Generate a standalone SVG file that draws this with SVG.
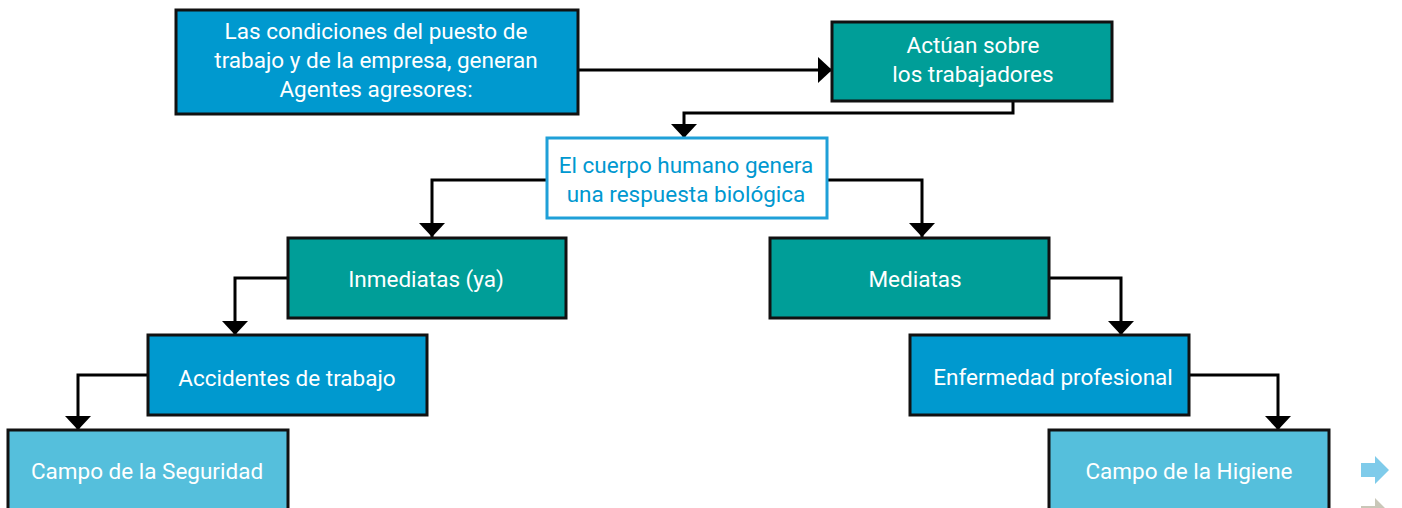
<svg xmlns="http://www.w3.org/2000/svg" width="1402" height="508" viewBox="0 0 1402 508">
<style>
.box{stroke:#111;stroke-width:3}
.blue{fill:#0099CF}
.teal{fill:#009E98}
.light{fill:#55BFDC}
.open{fill:#fff;stroke:#1FA0D8;stroke-width:3}
text{font-family:Roboto,"Liberation Sans",sans-serif;font-size:22.5px;fill:#fff;text-anchor:middle}
.dark{fill:#0098D0}
.con{fill:none;stroke:#000;stroke-width:3}
</style>
<defs>
<marker id="ah" viewBox="0 0 14 26" refX="14" refY="13" markerWidth="14" markerHeight="26" markerUnits="userSpaceOnUse" orient="auto">
<path d="M0,0 L14,13 L0,26 Z" fill="#000"/>
</marker>
</defs>
<g id="connectors">
<path class="con" d="M578,70 H832" marker-end="url(#ah)"/>
<path class="con" d="M1013,101 V113 H684 V138" marker-end="url(#ah)"/>
<path class="con" d="M547,180 H432 V237" marker-end="url(#ah)"/>
<path class="con" d="M827,180 H922 V237" marker-end="url(#ah)"/>
<path class="con" d="M288,278 H235 V335" marker-end="url(#ah)"/>
<path class="con" d="M1049,278 H1121 V335" marker-end="url(#ah)"/>
<path class="con" d="M148,375 H78 V430" marker-end="url(#ah)"/>
<path class="con" d="M1189,375 H1278 V430" marker-end="url(#ah)"/>
</g>
<g id="n1">
<rect class="box blue" x="176" y="10" width="402" height="104"/>
<text x="376" y="39">Las condiciones del puesto de</text>
<text x="376" y="68">trabajo y de la empresa, generan</text>
<text x="376" y="97">Agentes agresores:</text>
</g>
<g id="n2">
<rect class="box teal" x="832" y="22" width="280" height="79"/>
<text x="973" y="53">Actúan sobre</text>
<text x="973" y="82">los trabajadores</text>
</g>
<g id="n3">
<rect class="open" x="547" y="138" width="280" height="80"/>
<text class="dark" x="686" y="173">El cuerpo humano genera</text>
<text class="dark" x="686" y="202">una respuesta biológica</text>
</g>
<g id="n4">
<rect class="box teal" x="288" y="238" width="278" height="80"/>
<text x="426" y="287">Inmediatas (ya)</text>
</g>
<g id="n5">
<rect class="box teal" x="770" y="238" width="279" height="80"/>
<text x="915" y="287">Mediatas</text>
</g>
<g id="n6">
<rect class="box blue" x="148" y="335" width="279" height="80"/>
<text x="287" y="386">Accidentes de trabajo</text>
</g>
<g id="n7">
<rect class="box blue" x="910" y="335" width="279" height="80"/>
<text x="1053" y="385">Enfermedad profesional</text>
</g>
<g id="n8">
<rect class="box light" x="8" y="430" width="280" height="90"/>
<text x="147" y="479">Campo de la Seguridad</text>
</g>
<g id="n9">
<rect class="box light" x="1049" y="430" width="280" height="90"/>
<text x="1189" y="479">Campo de la Higiene</text>
</g>
<g id="deco">
<path d="M1361,463 H1375 V456 L1389,470 L1375,484 V477 H1361 Z" fill="#7FCBEA"/>
<path d="M1361,508 V506 H1375 V498 L1385,508 Z" fill="#C9C7B8"/>
</g>
</svg>
